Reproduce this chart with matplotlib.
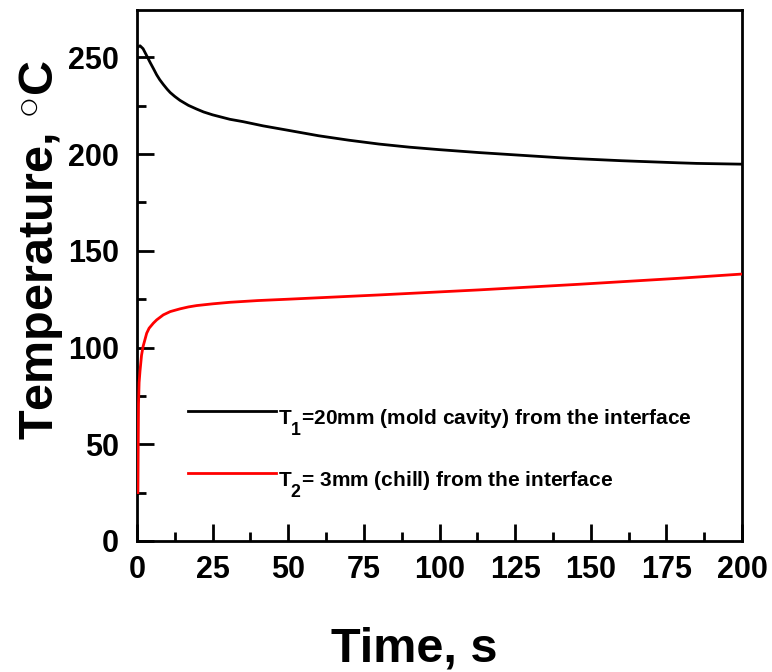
import matplotlib
matplotlib.use("Agg")
import matplotlib.pyplot as plt
import matplotlib._mathtext as _mt
from matplotlib.ticker import MultipleLocator

# ---- data ----
t_black = [0, 1, 2, 3, 4.3, 5.5, 6.5, 7.5, 8.7, 10, 11, 12.5, 14.2, 17, 19.7, 22, 25,
           30.7, 35, 41.7, 50, 60, 70, 80, 90, 100, 113, 120, 130, 140, 146, 160,
           165, 179, 185, 200]
T_black = [255, 256, 254.5, 251.5, 247.5, 244, 241, 238.5, 236, 233.5, 231.8, 229.8,
           227.8, 225.2, 223.3, 221.8, 220.3, 218, 216.8, 214.6, 212.3, 209.5, 207.2,
           205.2, 203.6, 202.3, 200.8, 200.1, 199.1, 198.1, 197.6, 196.6, 196.3,
           195.5, 195.2, 194.8]

t_red = [0.3, 0.4, 0.5, 0.7, 1.0, 1.5, 2, 3.2, 4, 5.4, 6.5, 8.7, 11, 14.2, 17, 19.7,
         25, 30.7, 40, 50, 80, 113, 146, 179, 200]
T_red = [25, 50, 71, 82, 88, 96, 100.5, 107.4, 110, 112.6, 114.3, 116.9, 118.6, 120,
         121, 121.7, 122.6, 123.4, 124.3, 125, 127.2, 129.8, 132.7, 135.8, 138]

label_black = r"$\mathbf{T_1}$=20mm (mold cavity) from the interface"
label_red = r"$\mathbf{T_2}$= 3mm (chill) from the interface"

x_ticks = [0, 25, 50, 75, 100, 125, 150, 175, 200]
y_ticks = [0, 50, 100, 150, 200, 250]

_mt.SHRINK_FACTOR = 0.85
_mt.FontConstantsBase.sub1 = 1.0
_mt.FontConstantsBase.sup1 = 0.45

plt.rcParams['font.family'] = ['Liberation Sans', 'DejaVu Sans']
plt.rcParams['font.weight'] = 'bold'
plt.rcParams['mathtext.fontset'] = 'custom'
plt.rcParams['mathtext.rm'] = 'Liberation Sans'
plt.rcParams['mathtext.bf'] = 'Liberation Sans:bold'
plt.rcParams['mathtext.it'] = 'Liberation Sans:bold'

fig = plt.figure(figsize=(7.72, 6.72), dpi=100)
ax = fig.add_axes([137 / 772, (672 - 541) / 672, (742 - 137) / 772, (541 - 10) / 672])

ax.plot(t_black, T_black, color='black', lw=2.0, label=label_black, zorder=3)
ax.plot(t_red, T_red, color='#ff0000', lw=2.0, label=label_red, zorder=3)

ax.set_xlim(0, 200)
ax.set_ylim(0, 274.5)
ax.set_xticks(x_ticks)
ax.set_yticks(y_ticks)
ax.xaxis.set_minor_locator(MultipleLocator(12.5))
ax.yaxis.set_minor_locator(MultipleLocator(25))

for s in ax.spines.values():
    s.set_linewidth(2.0)
ax.tick_params(which='major', direction='in', length=12.5, width=2.0, labelsize=22)
ax.tick_params(which='minor', direction='in', length=6.5, width=2.0)
ax.tick_params(axis='x', which='major', pad=10)
ax.tick_params(axis='y', which='major', pad=13)
for lab in ax.get_xticklabels() + ax.get_yticklabels():
    lab.set_fontweight('bold')

ax.set_xlabel("Time, s", fontsize=35, fontweight='bold', va='baseline')
ax.xaxis.set_label_coords(0.458, -0.227)
ax.set_ylabel(r"Temperature, $^{\circ}$C", fontsize=35, fontweight='bold',
              va='baseline', ha='center', rotation_mode='anchor')
ax.yaxis.set_label_coords(-0.139, 0.548)

leg = ax.legend(loc='upper left', bbox_to_anchor=(0.0843, 0.2696), frameon=False,
                fontsize=15, handlelength=4.2, handleheight=2.5, handletextpad=0.1,
                labelspacing=1.12, borderpad=0, borderaxespad=0)
for line in leg.get_lines():
    line.set_linewidth(2.0)
for txt in leg.get_texts():
    txt.set_fontweight('bold')

fig.savefig("out.png", dpi=100)
